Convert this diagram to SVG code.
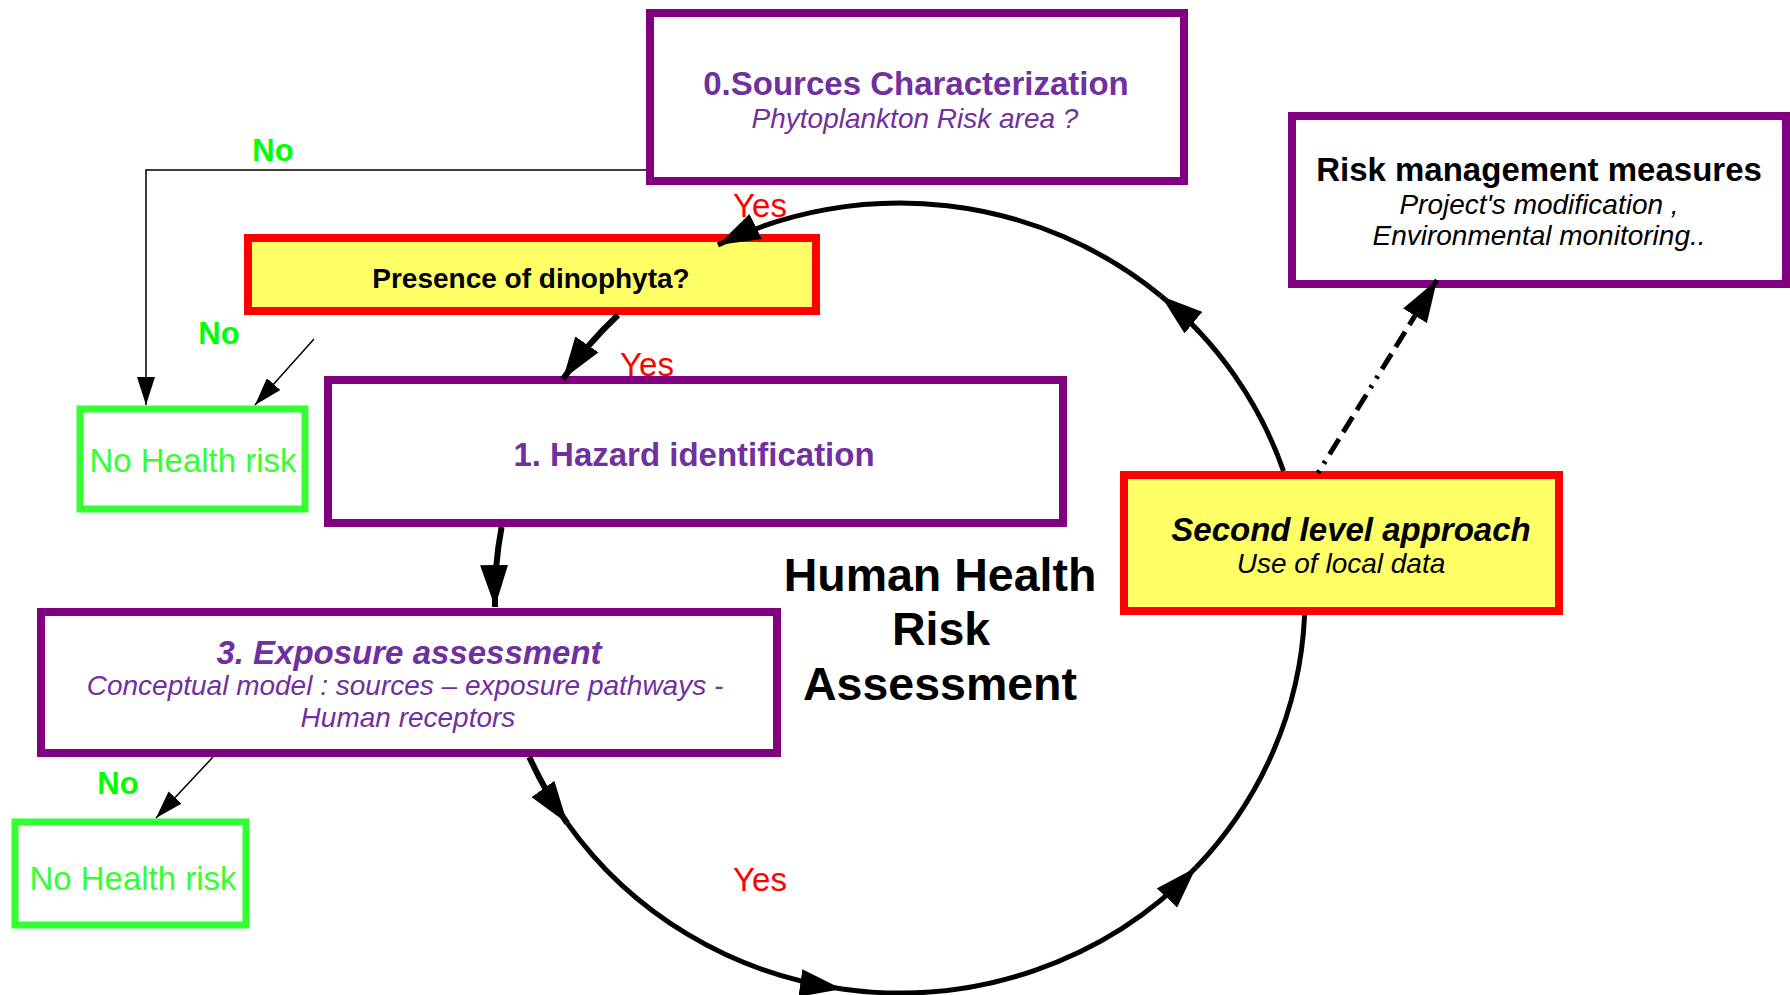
<svg xmlns="http://www.w3.org/2000/svg" width="1790" height="995" viewBox="0 0 1790 995">
<style>
text{font-family:"Liberation Sans",Arial,sans-serif;text-anchor:middle}
.pbox{fill:#fff;stroke:#800080;stroke-width:8}
.ybox{fill:#ffff66;stroke:#ff0000;stroke-width:8}
.gbox{fill:#fff;stroke:#33ff33;stroke-width:7}
.ptitle{fill:#7030a0;font-weight:bold;font-size:33px}
.psub{fill:#7030a0;font-style:italic;font-size:28px}
.btitle{fill:#000;font-weight:bold;font-size:33px}
.bsub{fill:#000;font-style:italic;font-size:28px}
.gtext{fill:#33ff33;font-size:33px}
.no{fill:#00ff00;font-weight:bold;font-size:31px}
.yes{fill:#ff0000;font-size:33px}
.arc{fill:none;stroke:#000;stroke-width:5}
.arcw{fill:none;stroke:#000;stroke-width:6}
.thin{fill:none;stroke:#000;stroke-width:1.5}
.dash{fill:none;stroke:#000;stroke-width:5;stroke-dasharray:3 8 3 8 18 8 18 8 18 8}
.big{font-weight:bold;font-size:46.5px;fill:#000}
</style>
<defs>
<marker id="big" markerUnits="userSpaceOnUse" markerWidth="42" markerHeight="28" viewBox="0 0 42 28" refX="42" refY="14" orient="auto"><path d="M0,0 L42,14 L0,28 z" fill="#000"/></marker>
<marker id="sm" markerUnits="userSpaceOnUse" markerWidth="28" markerHeight="18" viewBox="0 0 28 18" refX="28" refY="9" orient="auto"><path d="M0,0 L28,9 L0,18 z" fill="#000"/></marker>
</defs>
<rect width="1790" height="995" fill="#fff"/>

<g id="sources">
<rect class="pbox" x="650" y="13" width="534" height="168"/>
<text class="ptitle" x="916" y="94.5">0.Sources Characterization</text>
<text class="psub" x="915" y="127.5">Phytoplankton Risk area ?</text>
</g>

<g id="risk-management">
<rect class="pbox" x="1292" y="116" width="494" height="168"/>
<text class="btitle" x="1539" y="180.5">Risk management measures</text>
<text class="bsub" x="1539" y="213.5">Project's modification ,</text>
<text class="bsub" x="1539" y="244.5">Environmental monitoring..</text>
</g>

<g id="presence">
<rect class="ybox" x="248" y="238" width="568" height="73"/>
<text x="531" y="288" style="font-weight:bold;font-size:28px;fill:#000">Presence of dinophyta?</text>
</g>

<g id="no-risk-1">
<rect class="gbox" x="80" y="409" width="225" height="100"/>
<text class="gtext" x="193" y="471.5">No Health risk</text>
</g>

<g id="hazard">
<rect class="pbox" x="328" y="380" width="735" height="143"/>
<text class="ptitle" x="694" y="465.5">1. Hazard identification</text>
</g>

<g id="exposure">
<rect class="pbox" x="41" y="612" width="736" height="141"/>
<text class="ptitle" x="409" y="663.5" style="font-style:italic">3. Exposure assessment</text>
<text class="psub" x="405" y="695">Conceptual model : sources – exposure pathways -</text>
<text class="psub" x="408" y="727">Human receptors</text>
</g>

<g id="no-risk-2">
<rect class="gbox" x="15" y="822" width="231" height="103"/>
<text class="gtext" x="133" y="890">No Health risk</text>
</g>

<g id="second-level">
<rect class="ybox" x="1124" y="475" width="435" height="136"/>
<text class="btitle" x="1351" y="540.5" style="font-style:italic">Second level approach</text>
<text class="bsub" x="1341" y="572.5">Use of local data</text>
</g>

<g id="center-label">
<text class="big" x="940" y="590.5">Human Health</text>
<text class="big" x="941" y="644.5">Risk</text>
<text class="big" x="940" y="699.5">Assessment</text>
</g>

<g id="connectors">
<path class="arc" d="M1283.5,471 A405,395 0 0 0 1161,296" marker-end="url(#big)"/>
<path class="arc" d="M1161,296 A405,395 0 0 0 718,245" marker-end="url(#big)"/>
<path class="arcw" d="M618,315 A405,395 0 0 0 563,379" marker-end="url(#big)"/>
<path class="arcw" d="M501.6,527 A405,395 0 0 0 495,607" marker-end="url(#big)"/>
<path class="arcw" d="M529.3,757 A405,395 0 0 0 567.3,823.2" marker-end="url(#big)"/>
<path class="arc" d="M567.3,823.2 A405,395 0 0 0 842,988.9" marker-end="url(#big)"/>
<path class="arc" d="M842,988.9 A405,395 0 0 0 1196,867.6" marker-end="url(#big)"/>
<path class="arc" d="M1196,867.6 A405,395 0 0 0 1304.6,615"/>
<path class="dash" d="M1318,473 L1437,280" marker-end="url(#big)"/>
<path class="thin" d="M646,170 H146 V405" marker-end="url(#sm)"/>
<path class="thin" d="M314,339 L255,405" marker-end="url(#sm)"/>
<path class="thin" d="M213,757 L156,818" marker-end="url(#sm)"/>
<text class="no" x="273" y="161">No</text>
<text class="no" x="219" y="344">No</text>
<text class="no" x="118" y="794">No</text>
<text class="yes" x="760" y="217">Yes</text>
<text class="yes" x="647" y="376">Yes</text>
<text class="yes" x="760" y="891">Yes</text>
</g>
</svg>
